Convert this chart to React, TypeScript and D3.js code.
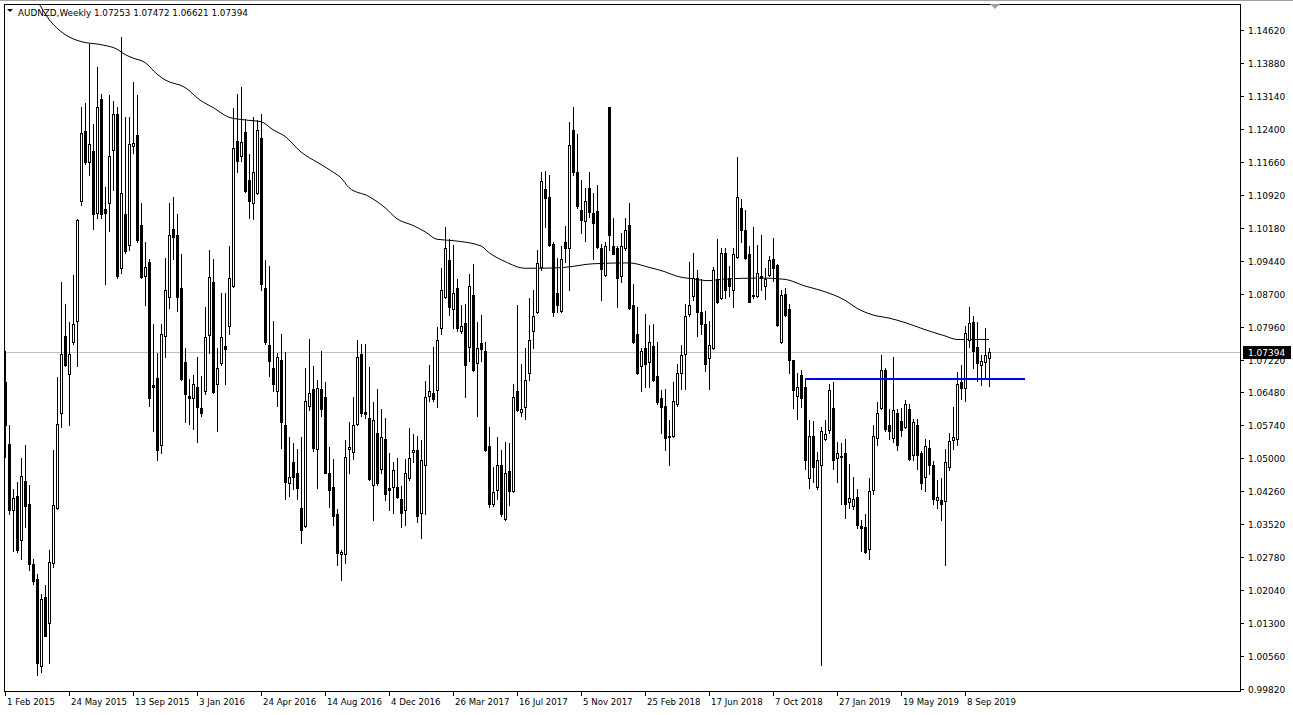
import React from "react";
import * as d3 from "d3";

// ---- data (weekly candles, first week = 1 Feb 2015) ----
const opens = [1.0671,1.0533,1.0383,1.0416,1.0317,1.0449,1.0398,1.0263,1.0228,1.0033,
1.0189,1.0130,1.0265,1.0388,1.0601,1.0774,1.0689,1.0762,1.0809,1.1078,
1.1236,1.1165,1.1190,1.1050,1.1306,1.1061,1.1073,1.1193,1.1273,1.0927,
1.1048,1.0979,1.1202,1.1226,1.1025,1.0909,1.0942,1.0664,1.0681,1.0531,
1.0775,1.0862,1.1015,1.1002,1.0882,1.0717,1.0641,1.0636,1.0661,1.0614,
1.0651,1.0777,1.0897,1.0666,1.0715,1.0752,1.0797,1.0887,1.1213,1.1180,
1.1233,1.1126,1.1073,1.1096,1.1220,1.0882,1.0755,1.0702,1.0651,1.0722,
1.0576,1.0444,1.0491,1.0466,1.0389,1.0347,1.0618,1.0656,1.0521,1.0656,
1.0638,1.0466,1.0436,1.0376,1.0285,1.0285,1.0521,1.0514,1.0578,1.0735,
1.0604,1.0591,1.0441,1.0556,1.0476,1.0544,1.0433,1.0436,1.0436,1.0408,
1.0383,1.0456,1.0514,1.0519,1.0378,1.0484,1.0641,1.0646,1.0654,1.0792,
1.0862,1.0945,1.0835,1.0882,1.0787,1.0805,1.0749,1.0867,1.0715,1.0759,
1.0742,1.0528,1.0398,1.0428,1.0486,1.0364,1.0471,1.0426,1.0651,1.0604,
1.0616,1.0691,1.0787,1.0829,1.0929,1.1106,1.1086,1.0982,1.0872,1.0832,
1.0987,1.0972,1.1238,1.1143,1.1058,1.1033,1.1108,1.1050,1.1056,1.0972,
1.0912,1.1288,1.0977,1.0972,1.0909,1.0972,1.1025,1.0845,1.0779,1.0707,
1.0747,1.0717,1.0752,1.0684,1.0636,1.0618,1.0551,1.0551,1.0621,1.0691,
1.0735,1.0825,1.0865,1.0905,1.0829,1.0802,1.0725,1.0747,1.0902,1.0859,
1.0962,1.0905,1.0879,1.0952,1.1063,1.1012,1.0959,1.0867,1.0865,1.0909,
1.0887,1.0912,1.0947,1.0935,1.0762,1.0869,1.0835,1.0722,1.0641,1.0688,
1.0661,1.0456,1.0551,1.0436,1.0484,1.0544,1.0564,1.0614,1.0501,1.0506,
1.0511,1.0401,1.0394,1.0414,1.0348,1.0346,1.0297,1.0428,1.0546,1.0614,
1.0699,1.0574,1.0546,1.0601,1.0584,1.0571,1.0611,1.0508,1.0576,1.0511,
1.0458,1.0524,1.0486,1.0406,1.0406,1.0404,1.0481,1.0541,1.0544,1.0671,
1.0658,1.0765,1.0807,1.0749,1.0709,1.0717,1.07253];

const highs = [1.0740,1.0574,1.0431,1.0446,1.0501,1.0530,1.0441,1.0275,1.0240,1.0195,
1.0215,1.0295,1.0518,1.0682,1.0895,1.0847,1.0807,1.0912,1.1038,1.1288,
1.1298,1.1431,1.1250,1.1379,1.1318,1.1110,1.1316,1.1303,1.1288,1.1446,
1.1266,1.1266,1.1346,1.1316,1.1073,1.0987,1.0947,1.0802,1.0737,1.0802,
1.0949,1.1073,1.1088,1.1048,1.0959,1.0747,1.0678,1.0688,1.0727,1.0686,
1.0839,1.0969,1.0947,1.0747,1.0872,1.0872,1.0977,1.1286,1.1318,1.1333,
1.1263,1.1183,1.1266,1.1260,1.1273,1.0945,1.0932,1.0809,1.0737,1.0779,
1.0739,1.0548,1.0534,1.0521,1.0548,1.0704,1.0769,1.0707,1.0676,1.0742,
1.0671,1.0526,1.0498,1.0386,1.0295,1.0541,1.0581,1.0638,1.0765,1.0757,
1.0757,1.0705,1.0626,1.0656,1.0611,1.0591,1.0511,1.0491,1.0501,1.0438,
1.0498,1.0568,1.0554,1.0551,1.0541,1.0674,1.0709,1.0749,1.0795,1.0927,
1.1019,1.0992,1.0979,1.0902,1.0845,1.0847,1.0915,1.0937,1.0807,1.0822,
1.0762,1.0571,1.0481,1.0548,1.0518,1.0536,1.0534,1.0666,1.0845,1.0712,
1.0747,1.0859,1.0879,1.0969,1.1143,1.1146,1.1136,1.0987,1.0949,1.0977,
1.1022,1.1256,1.1290,1.1228,1.1126,1.1108,1.1143,1.1096,1.1113,1.0982,
1.0987,1.1288,1.1040,1.0977,1.1007,1.1040,1.1073,1.0892,1.0839,1.0747,
1.0825,1.0799,1.0802,1.0762,1.0654,1.0656,1.0586,1.0671,1.0712,1.0755,
1.0847,1.0942,1.0962,1.0922,1.0902,1.0832,1.0809,1.0929,1.0992,1.0972,
1.0972,1.0932,1.0972,1.1176,1.1083,1.1058,1.0977,1.1019,1.0979,1.1002,
1.0927,1.0955,1.0995,1.0937,1.0879,1.0882,1.0847,1.0722,1.0691,1.0699,
1.0676,1.0586,1.0584,1.0514,1.0571,1.0586,1.0666,1.0671,1.0536,1.0534,
1.0544,1.0488,1.0458,1.0431,1.0361,1.0376,1.0456,1.0574,1.0626,1.0732,
1.0702,1.0611,1.0727,1.0611,1.0614,1.0631,1.0621,1.0588,1.0588,1.0516,
1.0544,1.0541,1.0494,1.0451,1.0456,1.0521,1.0556,1.0616,1.0694,1.0709,
1.0797,1.0839,1.0819,1.0807,1.0732,1.0792,1.07472];

const lows = [1.0504,1.0376,1.0293,1.0290,1.0275,1.0346,1.0250,1.0217,1.0013,1.0020,
1.0100,1.0040,1.0255,1.0386,1.0571,1.0707,1.0576,1.0757,1.0707,1.1068,
1.1160,1.1136,1.1016,1.1040,1.1040,1.0892,1.1010,1.1103,1.0905,1.0917,
1.0962,1.0967,1.1186,1.0987,1.0905,1.0845,1.0618,1.0561,1.0496,1.0511,
1.0727,1.0837,1.0947,1.0832,1.0676,1.0581,1.0578,1.0566,1.0536,1.0594,
1.0644,1.0737,1.0646,1.0561,1.0709,1.0668,1.0779,1.0885,1.1143,1.1168,
1.1098,1.1040,1.1038,1.1093,1.0877,1.0757,1.0686,1.0651,1.0618,1.0523,
1.0408,1.0416,1.0431,1.0408,1.0310,1.0346,1.0608,1.0516,1.0433,1.0596,
1.0466,1.0391,1.0351,1.0260,1.0227,1.0265,1.0468,1.0498,1.0574,1.0596,
1.0591,1.0451,1.0361,1.0441,1.0466,1.0406,1.0384,1.0378,1.0411,1.0346,
1.0351,1.0451,1.0491,1.0356,1.0320,1.0376,1.0628,1.0628,1.0616,1.0779,
1.0859,1.0822,1.0792,1.0787,1.0782,1.0638,1.0719,1.0697,1.0596,1.0719,
1.0516,1.0391,1.0394,1.0408,1.0371,1.0361,1.0396,1.0424,1.0606,1.0596,
1.0588,1.0676,1.0747,1.0827,1.0922,1.1019,1.0977,1.0819,1.0829,1.0829,
1.0942,1.0879,1.1136,1.1063,1.1007,1.0989,1.1043,1.0947,1.0972,1.0855,
1.0909,1.0967,1.0959,1.0839,1.0895,1.0969,1.0835,1.0759,1.0689,1.0651,
1.0661,1.0661,1.0674,1.0621,1.0558,1.0518,1.0486,1.0548,1.0618,1.0656,
1.0656,1.0819,1.0855,1.0775,1.0779,1.0697,1.0656,1.0745,1.0849,1.0857,
1.0859,1.0865,1.0839,1.0949,1.0987,1.0947,1.0851,1.0859,1.0862,1.0877,
1.0857,1.0909,1.0899,1.0797,1.0759,1.0819,1.0691,1.0614,1.0588,1.0616,
1.0476,1.0434,1.0446,1.0431,1.0035,1.0541,1.0558,1.0476,1.0448,1.0398,
1.0366,1.0388,1.0386,1.0344,1.0293,1.0287,1.0275,1.0421,1.0531,1.0611,
1.0561,1.0544,1.0536,1.0518,1.0551,1.0568,1.0496,1.0496,1.0476,1.0431,
1.0426,1.0464,1.0398,1.0388,1.0361,1.0260,1.0474,1.0521,1.0531,1.0634,
1.0628,1.0749,1.0702,1.0674,1.0664,1.0678,1.06621];

const closes = [1.0576,1.0383,1.0411,1.0295,1.0461,1.0394,1.0263,1.0225,1.0040,1.0185,
1.0102,1.0268,1.0396,1.0578,1.0735,1.0709,1.0735,1.0802,1.1035,1.1231,
1.1166,1.1205,1.1048,1.1288,1.1048,1.1050,1.1178,1.1273,1.0909,1.1096,
1.0965,1.1205,1.1208,1.0990,1.0907,1.0930,1.0636,1.0661,1.0518,1.0779,
1.0877,1.1002,1.0997,1.0862,1.0678,1.0644,1.0636,1.0666,1.0616,1.0601,
1.0772,1.0907,1.0648,1.0702,1.0772,1.0745,1.0905,1.1198,1.1168,1.1210,
1.1100,1.1078,1.1143,1.1238,1.0892,1.0762,1.0719,1.0666,1.0727,1.0581,
1.0446,1.0458,1.0458,1.0434,1.0340,1.0628,1.0646,1.0523,1.0658,1.0611,
1.0468,1.0429,1.0371,1.0287,1.0290,1.0504,1.0526,1.0574,1.0727,1.0601,
1.0599,1.0454,1.0586,1.0444,1.0548,1.0421,1.0429,1.0473,1.0413,1.0378,
1.0468,1.0501,1.0519,1.0371,1.0496,1.0638,1.0651,1.0633,1.0765,1.0877,
1.0972,1.0839,1.0872,1.0792,1.0797,1.0709,1.0887,1.0699,1.0747,1.0745,
1.0518,1.0398,1.0424,1.0486,1.0376,1.0466,1.0426,1.0638,1.0608,1.0611,
1.0676,1.0765,1.0819,1.0939,1.1123,1.1085,1.0979,1.0829,1.0844,1.0947,
1.0972,1.1203,1.1143,1.1066,1.1036,1.1078,1.1053,1.1028,1.0975,1.0925,
1.0977,1.1002,1.0959,1.0905,1.0977,1.1012,1.0837,1.0762,1.0692,1.0742,
1.0712,1.0762,1.0676,1.0626,1.0616,1.0546,1.0548,1.0628,1.0691,1.0732,
1.0819,1.0845,1.0905,1.0829,1.0802,1.0712,1.0755,1.0922,1.0852,1.0962,
1.0879,1.0887,1.0959,1.1088,1.1012,1.0949,1.0852,1.0864,1.0917,1.0905,
1.0902,1.0945,1.0927,1.0799,1.0867,1.0822,1.0722,1.0654,1.0661,1.0636,
1.0496,1.0551,1.0481,1.0496,1.0561,1.0554,1.0654,1.0496,1.0511,1.0504,
1.0398,1.0411,1.0408,1.0351,1.0344,1.0290,1.0426,1.0551,1.0601,1.0699,
1.0566,1.0561,1.0608,1.0531,1.0564,1.0621,1.0498,1.0581,1.0508,1.0444,
1.0528,1.0484,1.0408,1.0414,1.0398,1.0491,1.0538,1.0548,1.0668,1.0658,
1.0782,1.0805,1.0742,1.0715,1.0719,1.0732,1.07394];

// moving average, sampled at bar indices
const maIndex = [6,8,11,15,19,24,28,30,32,35,38,40,45,49,52,56,60,64,67,70,74,79,82,84,86,91,95,98,102,105,108,112,119,121,125,130,134,140,147,156,161,165,168,172,176,179,189,195,200,204,210,213,217,221,225,230,235,238,246];
const maValue = [1.1560,1.1529,1.1486,1.1452,1.1436,1.1429,1.1419,1.1407,1.1399,1.1389,1.1363,1.1350,1.1333,1.1303,1.1288,1.1266,1.1260,1.1256,1.1238,1.1223,1.1188,1.1160,1.1143,1.1130,1.1108,1.1088,1.1063,1.1038,1.1023,1.1009,1.0992,1.0989,1.0977,1.0962,1.0942,1.0927,1.0927,1.0929,1.0937,1.0939,1.0929,1.0919,1.0909,1.0903,1.0899,1.0902,1.0905,1.0902,1.0887,1.0877,1.0855,1.0837,1.0822,1.0815,1.0805,1.0789,1.0775,1.0767,1.0767];

// horizontal support line
const supportLevel = 1.0680;
const supportFrom = 200;
const supportTo = 255;

const priceTicks = [1.1462,1.1388,1.1314,1.1240,1.1166,1.1092,1.1018,1.0944,1.0870,1.0796,1.0722,1.0648,1.0574,1.0500,1.0426,1.0352,1.0278,1.0204,1.0130,1.0056,0.9982];
const dateTickIndex = [0,16,32,48,64,80,96,112,128,144,160,176,192,208,224,240];
const dateTickLabels = ["1 Feb 2015","24 May 2015","13 Sep 2015","3 Jan 2016","24 Apr 2016","14 Aug 2016","4 Dec 2016","26 Mar 2017","16 Jul 2017","5 Nov 2017","25 Feb 2018","17 Jun 2018","7 Oct 2018","27 Jan 2019","19 May 2019","8 Sep 2019"];

const symbolTitle = "AUDNZD,Weekly";

export default function App() {
  const W = 1293, H = 715;
  const plotL = 4, plotT = 4, plotR = 1240, plotB = 691;
  const x = d3.scaleLinear().domain([0, 246]).range([5, 989]);
  const y = d3.scaleLinear().domain([0.9982, 1.1462]).range([689, 30]);
  const font = "'DejaVu Sans', Tahoma, sans-serif";
  const n = closes.length;
  const last = n - 1;

  const maPts: [number, number][] = maIndex.map((d, i) => [x(d), y(maValue[i])]);
  const maPath = d3.line().curve(d3.curveMonotoneX)(maPts) || "";

  const px = (v: number) => Math.round(v);

  return (
    <svg width={W} height={H} style={{ position: "absolute", left: 0, top: 0, background: "#fff" }}
      shapeRendering="crispEdges" fontFamily={font}>
      <rect x={0} y={0} width={W} height={H} fill="#fff" />
      <defs>
        <clipPath id="plot">
          <rect x={plotL + 1} y={plotT + 1} width={plotR - plotL - 1} height={plotB - plotT - 1} />
        </clipPath>
      </defs>
      <line x1={0} x2={W} y1={0.5} y2={0.5} stroke="#a0a0a0" />
      <rect x={plotL + 0.5} y={plotT + 0.5} width={plotR - plotL} height={plotB - plotT} fill="none" stroke="#000" />
      <g clipPath="url(#plot)">
        <line x1={plotL} x2={plotR} y1={px(y(closes[last])) + 0.5} y2={px(y(closes[last])) + 0.5} stroke="#c0c0c0" />
        <path d={maPath} fill="none" stroke="#000" strokeWidth={1} shapeRendering="auto" />
        {closes.map((c, i) => {
          const cx = px(x(i));
          const o = opens[i];
          const bull = c >= o;
          const yTop = px(y(Math.max(o, c)));
          const yBot = px(y(Math.min(o, c)));
          const yH = px(y(Math.max(highs[i], o, c)));
          const yL = px(y(Math.min(lows[i], o, c)));
          return (
            <g key={i}>
              <line x1={cx + 0.5} x2={cx + 0.5} y1={yH} y2={yL + 1} stroke="#000" />
              {bull ? (
                <rect x={cx - 0.5} y={yTop + 0.5} width={2} height={Math.max(yBot - yTop, 1)} fill="#fff" stroke="#000" />
              ) : (
                <rect x={cx - 1} y={yTop} width={3} height={Math.max(yBot - yTop + 1, 1)} fill="#000" />
              )}
            </g>
          );
        })}
        <line x1={px(x(supportFrom))} x2={px(x(supportTo))} y1={px(y(supportLevel)) + 1} y2={px(y(supportLevel)) + 1}
          stroke="#0000ff" strokeWidth={2} />
      </g>
      <path d={`M${990},${4} L${1000},${4} L${995},${9} Z`} fill="#a0a0a0" shapeRendering="auto" />
      <path d="M7,9 L13,9 L10,12 Z" fill="#000" shapeRendering="auto" />
      <text x={18} y={16} fontSize={8.8} fill="#000">
        {`${symbolTitle} ${opens[last].toFixed(5)} ${highs[last].toFixed(5)} ${lows[last].toFixed(5)} ${closes[last].toFixed(5)}`}
      </text>
      {priceTicks.map((p, i) => {
        const yy = px(y(p));
        return (
          <g key={i}>
            <line x1={plotR} x2={plotR + 4} y1={yy + 0.5} y2={yy + 0.5} stroke="#000" />
            <text x={plotR + 8} y={yy + 4} fontSize={9} fill="#000">{p.toFixed(5)}</text>
          </g>
        );
      })}
      <rect x={plotR + 3} y={px(y(closes[last])) - 6} width={48} height={13} fill="#000" />
      <text x={plotR + 8} y={px(y(closes[last])) + 4} fontSize={9} fill="#fff">{closes[last].toFixed(5)}</text>
      {dateTickIndex.map((d, i) => {
        const xx = px(x(d));
        return (
          <g key={i}>
            <line x1={xx + 0.5} x2={xx + 0.5} y1={plotB} y2={plotB + 5} stroke="#000" />
            <text x={xx + 2} y={plotB + 14} fontSize={8.6} fill="#000">{dateTickLabels[i]}</text>
          </g>
        );
      })}
    </svg>
  );
}
